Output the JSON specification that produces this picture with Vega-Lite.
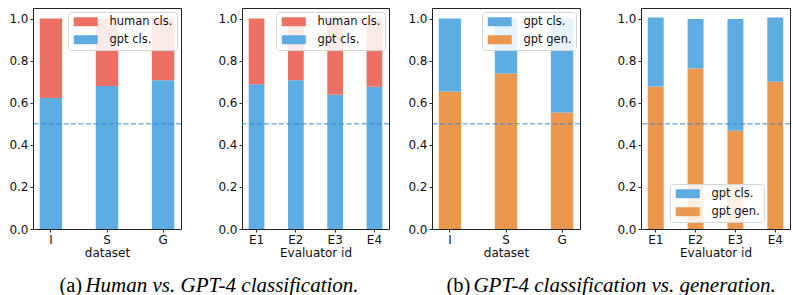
{
  "$schema": "https://vega.github.io/schema/vega-lite/v6.json",
  "padding": {"left": 8, "top": 7, "right": 0, "bottom": 0},
  "autosize": {"type": "pad"},
  "background": "white",
  "datasets": {
    "a1": [
      {"cat": "I", "series": "gpt cls.", "value": 0.622},
      {"cat": "I", "series": "human cls.", "value": 0.378},
      {"cat": "S", "series": "gpt cls.", "value": 0.680},
      {"cat": "S", "series": "human cls.", "value": 0.320},
      {"cat": "G", "series": "gpt cls.", "value": 0.707},
      {"cat": "G", "series": "human cls.", "value": 0.293}
    ],
    "a2": [
      {"cat": "E1", "series": "gpt cls.", "value": 0.688},
      {"cat": "E1", "series": "human cls.", "value": 0.312},
      {"cat": "E2", "series": "gpt cls.", "value": 0.707},
      {"cat": "E2", "series": "human cls.", "value": 0.293},
      {"cat": "E3", "series": "gpt cls.", "value": 0.638},
      {"cat": "E3", "series": "human cls.", "value": 0.362},
      {"cat": "E4", "series": "gpt cls.", "value": 0.676},
      {"cat": "E4", "series": "human cls.", "value": 0.324}
    ],
    "b1": [
      {"cat": "I", "series": "gpt gen.", "value": 0.653},
      {"cat": "I", "series": "gpt cls.", "value": 0.347},
      {"cat": "S", "series": "gpt gen.", "value": 0.739},
      {"cat": "S", "series": "gpt cls.", "value": 0.261},
      {"cat": "G", "series": "gpt gen.", "value": 0.554},
      {"cat": "G", "series": "gpt cls.", "value": 0.446}
    ],
    "b2": [
      {"cat": "E1", "series": "gpt gen.", "value": 0.677},
      {"cat": "E1", "series": "gpt cls.", "value": 0.328},
      {"cat": "E2", "series": "gpt gen.", "value": 0.763},
      {"cat": "E2", "series": "gpt cls.", "value": 0.235},
      {"cat": "E3", "series": "gpt gen.", "value": 0.467},
      {"cat": "E3", "series": "gpt cls.", "value": 0.531},
      {"cat": "E4", "series": "gpt gen.", "value": 0.700},
      {"cat": "E4", "series": "gpt cls.", "value": 0.305}
    ],
    "chance": [{"level": 0.5}]
  },
  "hconcat": [
    {
      "hconcat": [
        {
          "hconcat": [
            {
              "width": 148, "height": 221,
              "layer": [
                {
                  "data": {"name": "a1"},
                  "mark": {"type": "bar"},
                  "encoding": {
                    "x": {"field": "cat", "type": "nominal", "sort": ["I", "S", "G"], "scale": {"paddingInner": 0.6, "paddingOuter": 0.12}, "axis": {"title": "dataset", "labelAngle": 0}},
                    "y": {"field": "value", "type": "quantitative", "stack": "zero", "scale": {"domain": [0, 1.05], "nice": false}, "axis": {"title": null, "values": [0, 0.2, 0.4, 0.6, 0.8, 1.0], "format": ".1f"}},
                    "color": {"field": "series", "type": "nominal", "scale": {"domain": ["human cls.", "gpt cls."], "range": ["#EC7063", "#5DADE2"]}, "legend": {"orient": "top-right"}},
                    "order": {"field": "series", "sort": "ascending"}
                  }
                },
                {
                  "data": {"name": "chance"},
                  "mark": {"type": "rule", "color": "#2a80c4", "strokeOpacity": 0.6, "strokeWidth": 1.5, "strokeDash": [5, 2.5]},
                  "encoding": {"y": {"field": "level", "type": "quantitative"}}
                }
              ]
            },
            {
              "width": 147, "height": 221,
              "layer": [
                {
                  "data": {"name": "a2"},
                  "mark": {"type": "bar"},
                  "encoding": {
                    "x": {"field": "cat", "type": "nominal", "sort": ["E1", "E2", "E3", "E4"], "scale": {"paddingInner": 0.6, "paddingOuter": 0.17}, "axis": {"title": "Evaluator id", "labelAngle": 0}},
                    "y": {"field": "value", "type": "quantitative", "stack": "zero", "scale": {"domain": [0, 1.05], "nice": false}, "axis": {"title": null, "values": [0, 0.2, 0.4, 0.6, 0.8, 1.0], "format": ".1f"}},
                    "color": {"field": "series", "type": "nominal", "scale": {"domain": ["human cls.", "gpt cls."], "range": ["#EC7063", "#5DADE2"]}, "legend": {"orient": "top-right"}},
                    "order": {"field": "series", "sort": "ascending"}
                  }
                },
                {
                  "data": {"name": "chance"},
                  "mark": {"type": "rule", "color": "#2a80c4", "strokeOpacity": 0.6, "strokeWidth": 1.5, "strokeDash": [5, 2.5]},
                  "encoding": {"y": {"field": "level", "type": "quantitative"}}
                }
              ]
            }
          ],
          "spacing": 34,
          "resolve": {"scale": {"color": "independent", "y": "independent"}, "legend": {"color": "independent"}, "axis": {"y": "independent"}},
          "title": {"text": "Human vs. GPT-4 classification.", "orient": "bottom", "anchor": "start", "baseline": "alphabetic", "dx": 77, "offset": 33, "font": "Liberation Serif", "fontStyle": "italic", "fontWeight": "normal", "fontSize": 21, "color": "#000"}
        }
      ],
      "resolve": {"scale": {"color": "independent", "y": "independent"}, "legend": {"color": "independent"}},
      "title": {"text": "(a)", "orient": "bottom", "anchor": "start", "baseline": "alphabetic", "dx": 51, "dy": -4, "offset": 0, "font": "Liberation Serif", "fontStyle": "normal", "fontWeight": "normal", "fontSize": 20.5, "color": "#000"}
    },
    {
      "hconcat": [
        {
          "hconcat": [
            {
              "width": 148, "height": 221,
              "layer": [
                {
                  "data": {"name": "b1"},
                  "mark": {"type": "bar"},
                  "encoding": {
                    "x": {"field": "cat", "type": "nominal", "sort": ["I", "S", "G"], "scale": {"paddingInner": 0.6, "paddingOuter": 0.12}, "axis": {"title": "dataset", "labelAngle": 0}},
                    "y": {"field": "value", "type": "quantitative", "stack": "zero", "scale": {"domain": [0, 1.05], "nice": false}, "axis": {"title": null, "values": [0, 0.2, 0.4, 0.6, 0.8, 1.0], "format": ".1f"}},
                    "color": {"field": "series", "type": "nominal", "scale": {"domain": ["gpt cls.", "gpt gen."], "range": ["#5DADE2", "#EB984E"]}, "legend": {"orient": "top-right"}},
                    "order": {"field": "series", "sort": "descending"}
                  }
                },
                {
                  "data": {"name": "chance"},
                  "mark": {"type": "rule", "color": "#2a80c4", "strokeOpacity": 0.6, "strokeWidth": 1.5, "strokeDash": [5, 2.5]},
                  "encoding": {"y": {"field": "level", "type": "quantitative"}}
                }
              ]
            },
            {
              "width": 149, "height": 221,
              "layer": [
                {
                  "data": {"name": "b2"},
                  "mark": {"type": "bar"},
                  "encoding": {
                    "x": {"field": "cat", "type": "nominal", "sort": ["E1", "E2", "E3", "E4"], "scale": {"paddingInner": 0.6, "paddingOuter": 0.17}, "axis": {"title": "Evaluator id", "labelAngle": 0}},
                    "y": {"field": "value", "type": "quantitative", "stack": "zero", "scale": {"domain": [0, 1.05], "nice": false}, "axis": {"title": null, "values": [0, 0.2, 0.4, 0.6, 0.8, 1.0], "format": ".1f"}},
                    "color": {"field": "series", "type": "nominal", "scale": {"domain": ["gpt cls.", "gpt gen."], "range": ["#5DADE2", "#EB984E"]}, "legend": {"orient": "none", "legendX": 29, "legendY": 176}},
                    "order": {"field": "series", "sort": "descending"}
                  }
                },
                {
                  "data": {"name": "chance"},
                  "mark": {"type": "rule", "color": "#2a80c4", "strokeOpacity": 0.6, "strokeWidth": 1.5, "strokeDash": [5, 2.5]},
                  "encoding": {"y": {"field": "level", "type": "quantitative"}}
                }
              ]
            }
          ],
          "spacing": 34,
          "resolve": {"scale": {"color": "independent", "y": "independent"}, "legend": {"color": "independent"}, "axis": {"y": "independent"}},
          "title": {"text": "GPT-4 classification vs. generation.", "orient": "bottom", "anchor": "start", "baseline": "alphabetic", "dx": 66, "offset": 33, "font": "Liberation Serif", "fontStyle": "italic", "fontWeight": "normal", "fontSize": 21, "color": "#000"}
        }
      ],
      "resolve": {"scale": {"color": "independent", "y": "independent"}, "legend": {"color": "independent"}},
      "title": {"text": "(b)", "orient": "bottom", "anchor": "start", "baseline": "alphabetic", "dx": 39, "dy": -4, "offset": 0, "font": "Liberation Serif", "fontStyle": "normal", "fontWeight": "normal", "fontSize": 20.5, "color": "#000"}
    }
  ],
  "spacing": 16,
  "resolve": {"scale": {"color": "independent", "y": "independent"}, "legend": {"color": "independent"}},
  "config": {
    "font": "DejaVu Sans",
    "view": {"stroke": "#222", "strokeWidth": 1},
    "bar": {"opacity": 1},
    "axis": {
      "domain": false, "grid": false,
      "tickColor": "#222", "tickSize": 3, "tickWidth": 1,
      "labelFont": "DejaVu Sans", "labelFontSize": 12, "labelColor": "#111", "labelPadding": 2,
      "titleFont": "DejaVu Sans", "titleFontSize": 12, "titleFontWeight": "normal", "titleColor": "#111", "titlePadding": 2
    },
    "legend": {
      "title": null, "offset": 4,
      "fillColor": "rgba(255,255,255,0.85)", "strokeColor": "#d5d5d5", "cornerRadius": 3, "padding": 4,
      "symbolType": "M-1,-1.125H5V1.125H-1Z", "symbolSize": 64, "symbolStrokeWidth": 0, "symbolOpacity": 1,
      "labelFont": "DejaVu Sans", "labelFontSize": 11.5, "labelColor": "#111", "labelOffset": 26, "rowPadding": 5
    },
    "title": {"font": "Liberation Serif"}
  }
}
